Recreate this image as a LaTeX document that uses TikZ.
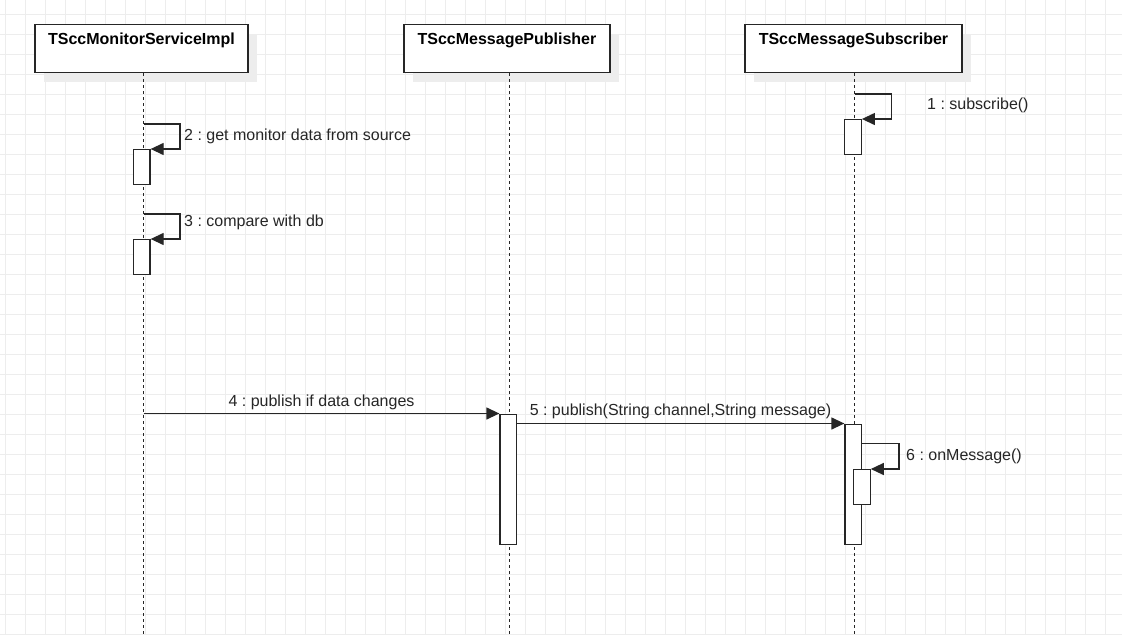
\documentclass[tikz,border=0pt]{standalone}
\usepackage{fontspec}
\setmainfont{Liberation Sans}
\usetikzlibrary{arrows.meta,shadows}
\frenchspacing
\begin{document}
\begin{tikzpicture}[x=1pt,y=-1pt,font=\fontsize{16}{19}\selectfont]
        % Define styles for objects, bars and messages
        \tikzstyle{gridline}=[draw=black!7, line width=0.8pt]
        \tikzstyle{object}=[draw=black!85, fill=white, line width=1.3pt, anchor=north, inner xsep=0pt, inner ysep=4pt, minimum height=48pt, text height=15.5pt, text depth=24.5pt, font=\fontsize{16}{19}\selectfont\bfseries, drop shadow={fill=black!7, shadow xshift=9pt, shadow yshift=-9pt, opacity=1}]
        \tikzstyle{lifeline}=[draw=black!85, line width=1.4pt, dash pattern=on 3pt off 3pt]
        \tikzstyle{activation}=[draw=black!85, fill=white, line width=1.3pt, minimum width=16.5pt, inner sep=0pt, anchor=north]
        \tikzstyle{msg}=[draw=black!85, line width=1.3pt, -{Triangle[length=13pt,width=12pt]}]
        \tikzstyle{msglabel}=[text=black!85, inner sep=0pt]

        \useasboundingbox (0,0) rectangle (1122,635);
        \fill[white] (0,0) rectangle (1122,635);
        \foreach \i in {0,...,55} \draw[gridline] ({5.5+20*\i},0) -- ({5.5+20*\i},635);
        \foreach \j in {0,...,31} \draw[gridline] (0,{14.5+20*\j}) -- (1122,{14.5+20*\j});

        % Define objects
        \node[object, minimum width=213pt] (mon) at (141.5,24) {TSccMonitorServiceImpl};
        \node[object, minimum width=206pt] (pub) at (507,24) {TSccMessagePublisher};
        \node[object, minimum width=217pt] (sub) at (853.5,24) {TSccMessageSubscriber};

        % Lifelines
        \coordinate (monend) at (143.5,635);
        \coordinate (pubend) at (509.5,635);
        \coordinate (subend) at (854.5,635);
        \draw[lifeline] (mon.south -| monend) -- (monend);
        \draw[lifeline] (pub.south -| pubend) -- (pubend);
        \draw[lifeline] (sub.south -| subend) -- (subend);

        % Activation bars
        \node[activation, minimum height=35pt] (act1) at (853,119) {};
        \node[activation, minimum height=35pt] (act2) at (141.75,149) {};
        \node[activation, minimum height=35pt] (act3) at (141.75,239) {};
        \node[activation, minimum height=130.5pt] (act4) at (508.25,413.5) {};
        \node[activation, minimum height=120.5pt] (act5) at (853.25,423.5) {};
        \node[activation, minimum height=35pt] (act6) at (861.9,469) {};

        % Draw messages
        \coordinate (m1) at (854.5,94);
        \draw[msg] (m1) -- ++(37,0) |- (act1.north east);
        \node[msglabel, anchor=base west] (l1) at (927,109) {1 : subscribe()};

        \coordinate (m2) at (143.5,124);
        \draw[msg] (m2) -- ++(36.5,0) |- (act2.north east);
        \node[msglabel, anchor=base west] (l2) at (184,140) {2 : get monitor data from source};

        \coordinate (m3) at (143.5,214);
        \draw[msg] (m3) -- ++(36.5,0) |- (act3.north east);
        \node[msglabel, anchor=base west] (l3) at (184,226) {3 : compare with db};

        \draw[msg] (monend |- act4.north) -- (act4.north west);
        \node[msglabel, anchor=base] (l4) at (321.5,406) {4 : publish if data changes};

        \draw[msg] (act4.east |- act5.north) -- (act5.north west);
        \node[msglabel, anchor=base] (l5) at (680.5,415.5) {5 : publish(String channel,String message)};

        \coordinate (m6) at (861.5,443.5);
        \draw[msg] (m6) -- ++(37.5,0) |- (act6.north east);
        \node[msglabel, anchor=base west] (l6) at (906,460) {6 : onMessage()};
      
      \end{tikzpicture}
\end{document}
